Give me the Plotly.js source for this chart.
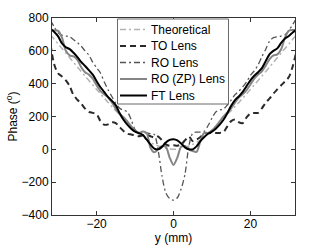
<!DOCTYPE html>
<html>
<head>
<meta charset="utf-8">
<script src="https://cdn.plot.ly/plotly-3.0.1.min.js"></script>
<style>html,body{margin:0;padding:0;background:#fff;}#chart{width:327px;height:246px;}</style>
</head>
<body>
<div id="chart"></div>
<script>
// shared position grid (mm)
var yPos = [-32,-31,-30,-29,-28,-27,-26,-25,-24,-23,-22,-21,-20,-19,-18,-17,-16,-15,-14,-13,-12,-11,-10,-9,-8,-7,-6,-5,-4,-3,-2,-1,0,
            1,2,3,4,5,6,7,8,9,10,11,12,13,14,15,16,17,18,19,20,21,22,23,24,25,26,27,28,29,30,31,32];

var theoretical = [698,670,642,614,586,558,530,502,474,446,419,392,365,338,312,286,260,235,215,190,165,141,118,96,76,58,42,30,20,12,6,2,0,
                   2,6,12,20,30,42,58,76,96,118,141,165,190,215,235,260,286,312,338,365,392,419,446,474,502,530,558,586,614,642,670,698];

var toLens = [640,515,462,444,420,385,330,302,278,248,228,222,214,172,150,152,165,160,135,112,95,90,85,80,85,88,80,72,78,55,30,22,25,
              22,30,55,78,50,60,75,95,100,100,100,100,105,140,172,182,165,160,195,218,222,222,250,285,310,340,365,390,414,440,505,600];

var roLens = [785,745,710,695,690,686,668,650,628,600,574,530,497,465,410,362,320,280,250,238,228,180,120,100,100,100,95,90,-5,-162,-265,-300,-310,
              -295,-240,-150,20,98,105,105,110,145,190,228,240,245,270,300,333,355,380,410,450,478,515,565,610,660,680,686,690,697,725,760,800];

var roZpLens = [725,725,722,680,600,572,566,545,500,470,455,430,390,355,335,315,285,245,215,195,170,140,115,100,108,100,10,-18,0,20,15,-50,-95,
                -50,15,20,0,-10,-15,50,100,100,115,140,170,200,225,250,285,315,335,360,395,430,455,475,510,550,572,578,610,680,722,727,727];

var ftLens = [735,715,688,645,622,610,588,562,532,508,482,455,415,378,348,318,295,268,220,180,150,125,108,98,88,60,30,5,0,15,42,58,62,
              55,35,12,0,0,18,50,75,95,108,126,150,180,220,265,300,323,350,385,420,448,470,495,538,580,600,615,648,675,690,712,730];

var seriesNames = ["Theoretical","TO Lens","RO Lens","RO (ZP) Lens","FT Lens"];
var xTicks = [-20,0,20];
var yTicks = [-400,-200,0,200,400,600,800];

var styles = [
  {color:"#b3b3b3", width:1.5, dash:"6px,3px,2px,3px"},
  {color:"#2a2a2a", width:2,   dash:"6px,4px"},
  {color:"#555555", width:1.3, dash:"6px,3px,2px,3px"},
  {color:"#858585", width:2,   dash:"solid"},
  {color:"#000000", width:2,   dash:"solid"}
];
var values = [theoretical, toLens, roLens, roZpLens, ftLens];

var traces = values.map(function(v,i){
  return {x:yPos, y:v, name:seriesNames[i], type:"scatter", mode:"lines", showlegend:false,
          line:{color:styles[i].color, width:styles[i].width, dash:styles[i].dash, shape:"spline", smoothing:0.8},
          hoverinfo:"skip"};
});

// legend box drawn in paper coordinates (MATLAB-style legend with tight rows)
var W = 327, H = 246, M = {l:52, r:32, t:18, b:31};
var pw = W - M.l - M.r, ph = H - M.t - M.b;
function px2x(p){ return (p - M.l) / pw; }
function py2y(p){ return 1 - (p - M.t) / ph; }
var legBox = {x0:117.5, x1:228.5, y0:19, y1:104};
var rowY = [29.5, 46, 62.5, 79, 95.5];
var shapes = [{type:"rect", xref:"paper", yref:"paper",
  x0:px2x(legBox.x0), x1:px2x(legBox.x1), y0:py2y(legBox.y1), y1:py2y(legBox.y0),
  fillcolor:"#fff", line:{color:"#6a6a6a", width:1}, layer:"above"}];
var annotations = [];
seriesNames.forEach(function(n,i){
  shapes.push({type:"line", xref:"paper", yref:"paper", layer:"above",
    x0:px2x(120), x1:px2x(147), y0:py2y(rowY[i]), y1:py2y(rowY[i]),
    line:{color:styles[i].color, width:styles[i].width, dash:styles[i].dash}});
  annotations.push({xref:"paper", yref:"paper", x:px2x(148.5), y:py2y(rowY[i]), xanchor:"left", yanchor:"middle",
    text:n, showarrow:false, font:{family:"Liberation Sans, Arial, sans-serif", size:12, color:"#000"}});
});

var font = {family:"Liberation Sans, Arial, sans-serif", size:12, color:"#000"};
var layout = {
  width:W, height:H,
  margin:{l:M.l, r:M.r, t:M.t, b:M.b, pad:0},
  paper_bgcolor:"#fff", plot_bgcolor:"#fff",
  font:font,
  showlegend:false,
  shapes:shapes, annotations:annotations,
  xaxis:{range:[-31.6,31.6], tickvals:xTicks, ticktext:xTicks.map(function(t){return t<0?"\u2212"+(-t):String(t);}),
         ticks:"inside", ticklen:4, tickcolor:"#333", showline:true, linecolor:"#333", linewidth:1, mirror:"ticks",
         showgrid:false, zeroline:false, automargin:false, tickfont:{size:12}, ticklabelstandoff:-2,
         title:{text:"y (mm)", font:{size:12}, standoff:0}},
  yaxis:{range:[-400,800], tickvals:yTicks, ticktext:yTicks.map(function(t){return t<0?"\u2212"+(-t):String(t);}),
         ticks:"inside", ticklen:4, tickcolor:"#333", showline:true, linecolor:"#333", linewidth:1, mirror:"ticks",
         showgrid:false, zeroline:false, automargin:false, tickfont:{size:12},
         title:{text:"Phase (<sup>o</sup>)", font:{size:12}, standoff:1}}
};
Plotly.newPlot("chart", traces, layout, {staticPlot:true, displayModeBar:false});
</script>
</body>
</html>
